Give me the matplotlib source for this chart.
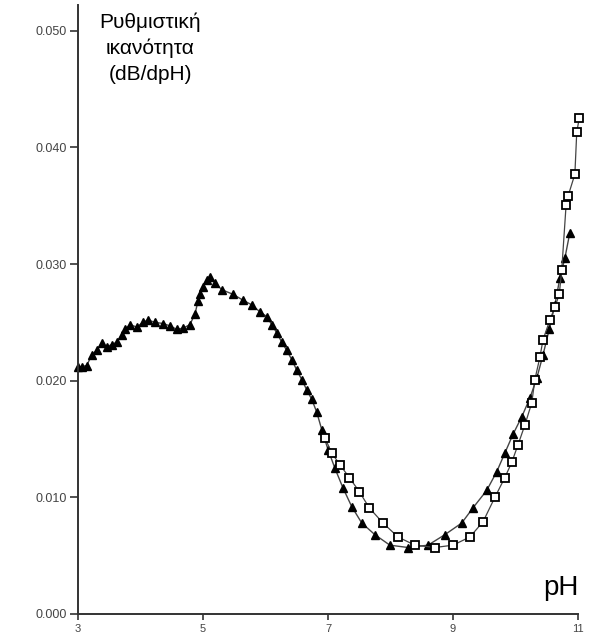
import matplotlib.pyplot as plt

plt.rcParams['font.family'] = ['Liberation Sans', 'DejaVu Sans']

# series with filled triangles
ph_tri = [3.00, 3.06, 3.14, 3.22, 3.30, 3.38, 3.46, 3.54, 3.62, 3.70, 3.75, 3.83,
          3.94, 4.04, 4.12, 4.23, 4.36, 4.47, 4.58, 4.68, 4.79, 4.87, 4.92, 4.95,
          5.00, 5.06, 5.11, 5.19, 5.30, 5.48, 5.64, 5.78, 5.91, 6.02, 6.10, 6.18,
          6.26, 6.34, 6.42, 6.50, 6.58, 6.66, 6.74, 6.82, 6.90, 7.00, 7.11, 7.24,
          7.38, 7.54, 7.75, 7.99, 8.28, 8.60, 8.87, 9.14, 9.32, 9.54, 9.70, 9.83,
          9.96, 10.10, 10.23, 10.34, 10.44, 10.54, 10.63, 10.71, 10.79, 10.87]
b_tri = [0.0212, 0.0212, 0.0213, 0.0222, 0.0226, 0.0232, 0.0229, 0.0231, 0.0233, 0.0239,
         0.0244, 0.0248, 0.0246, 0.0250, 0.0252, 0.0250, 0.0249, 0.0247, 0.0244, 0.0245,
         0.0248, 0.0257, 0.0268, 0.0274, 0.0280, 0.0286, 0.0289, 0.0284, 0.0278, 0.0274,
         0.0269, 0.0265, 0.0259, 0.0255, 0.0248, 0.0241, 0.0233, 0.0226, 0.0218, 0.0209,
         0.0201, 0.0192, 0.0184, 0.0173, 0.0158, 0.0141, 0.0125, 0.0108, 0.0092, 0.0078,
         0.0068, 0.0059, 0.0057, 0.0059, 0.0068, 0.0078, 0.0091, 0.0106, 0.0122, 0.0138,
         0.0154, 0.0169, 0.0185, 0.0202, 0.0222, 0.0244, 0.0265, 0.0288, 0.0305, 0.0327]

# series with open squares
ph_sq = [6.95, 7.06, 7.19, 7.34, 7.50, 7.66, 7.88, 8.12, 8.39, 8.71, 9.00, 9.27,
         9.48, 9.67, 9.83, 9.94, 10.04, 10.15, 10.26, 10.31, 10.39, 10.44, 10.55,
         10.63, 10.70, 10.74, 10.81, 10.84, 10.95, 10.98, 11.02]
b_sq = [0.0151, 0.0138, 0.0128, 0.0117, 0.0105, 0.0091, 0.0078, 0.0066, 0.0059, 0.0057,
        0.0059, 0.0066, 0.0079, 0.0100, 0.0117, 0.0130, 0.0145, 0.0162, 0.0181, 0.0201,
        0.0220, 0.0235, 0.0252, 0.0263, 0.0274, 0.0295, 0.0351, 0.0358, 0.0377, 0.0413,
        0.0425]

x_ticks = [3, 5, 7, 9, 11]
y_ticks = [0.000, 0.010, 0.020, 0.030, 0.040, 0.050]

fig = plt.figure(figsize=(5.9, 6.41), dpi=100)
ax = fig.add_axes([78 / 590, 27 / 641, 500 / 590, 609 / 641])

ax.plot(ph_tri, b_tri, color='#444444', lw=1.0, marker='^', ms=5.5,
        mfc='black', mec='black', clip_on=False)
ax.plot(ph_sq, b_sq, color='#444444', lw=0.9, marker='s', ms=5.5,
        mfc='white', mec='black', mew=1.3, clip_on=False)

ax.set_xlim(3, 11)
ax.set_ylim(0, 0.0522)
for s in ['top', 'right']:
    ax.spines[s].set_visible(False)
for s in ['left', 'bottom']:
    ax.spines[s].set_linewidth(1.4)
    ax.spines[s].set_color('#333333')

ax.set_yticks(y_ticks)
ax.set_yticklabels(['%.3f' % v for v in y_ticks])
ax.set_xticks(x_ticks)
ax.set_xticklabels([str(v) for v in x_ticks])
ax.tick_params(axis='y', direction='out', length=6, width=1.2, color='#333333',
               labelsize=9, labelcolor='#444444', pad=2)
ax.tick_params(axis='x', direction='out', length=4, width=1.2, color='#333333',
               labelsize=8, labelcolor='#444444', pad=3)

fig.text(150 / 590, 1 - 12 / 641, 'Ρυθμιστική\nικανότητα\n(dB/dpH)',
         ha='center', va='top', fontsize=15, linespacing=1.45)
fig.text(579 / 590, 1 - 595 / 641, 'pH', ha='right', va='baseline', fontsize=20)

plt.savefig('out.png', dpi=100)
